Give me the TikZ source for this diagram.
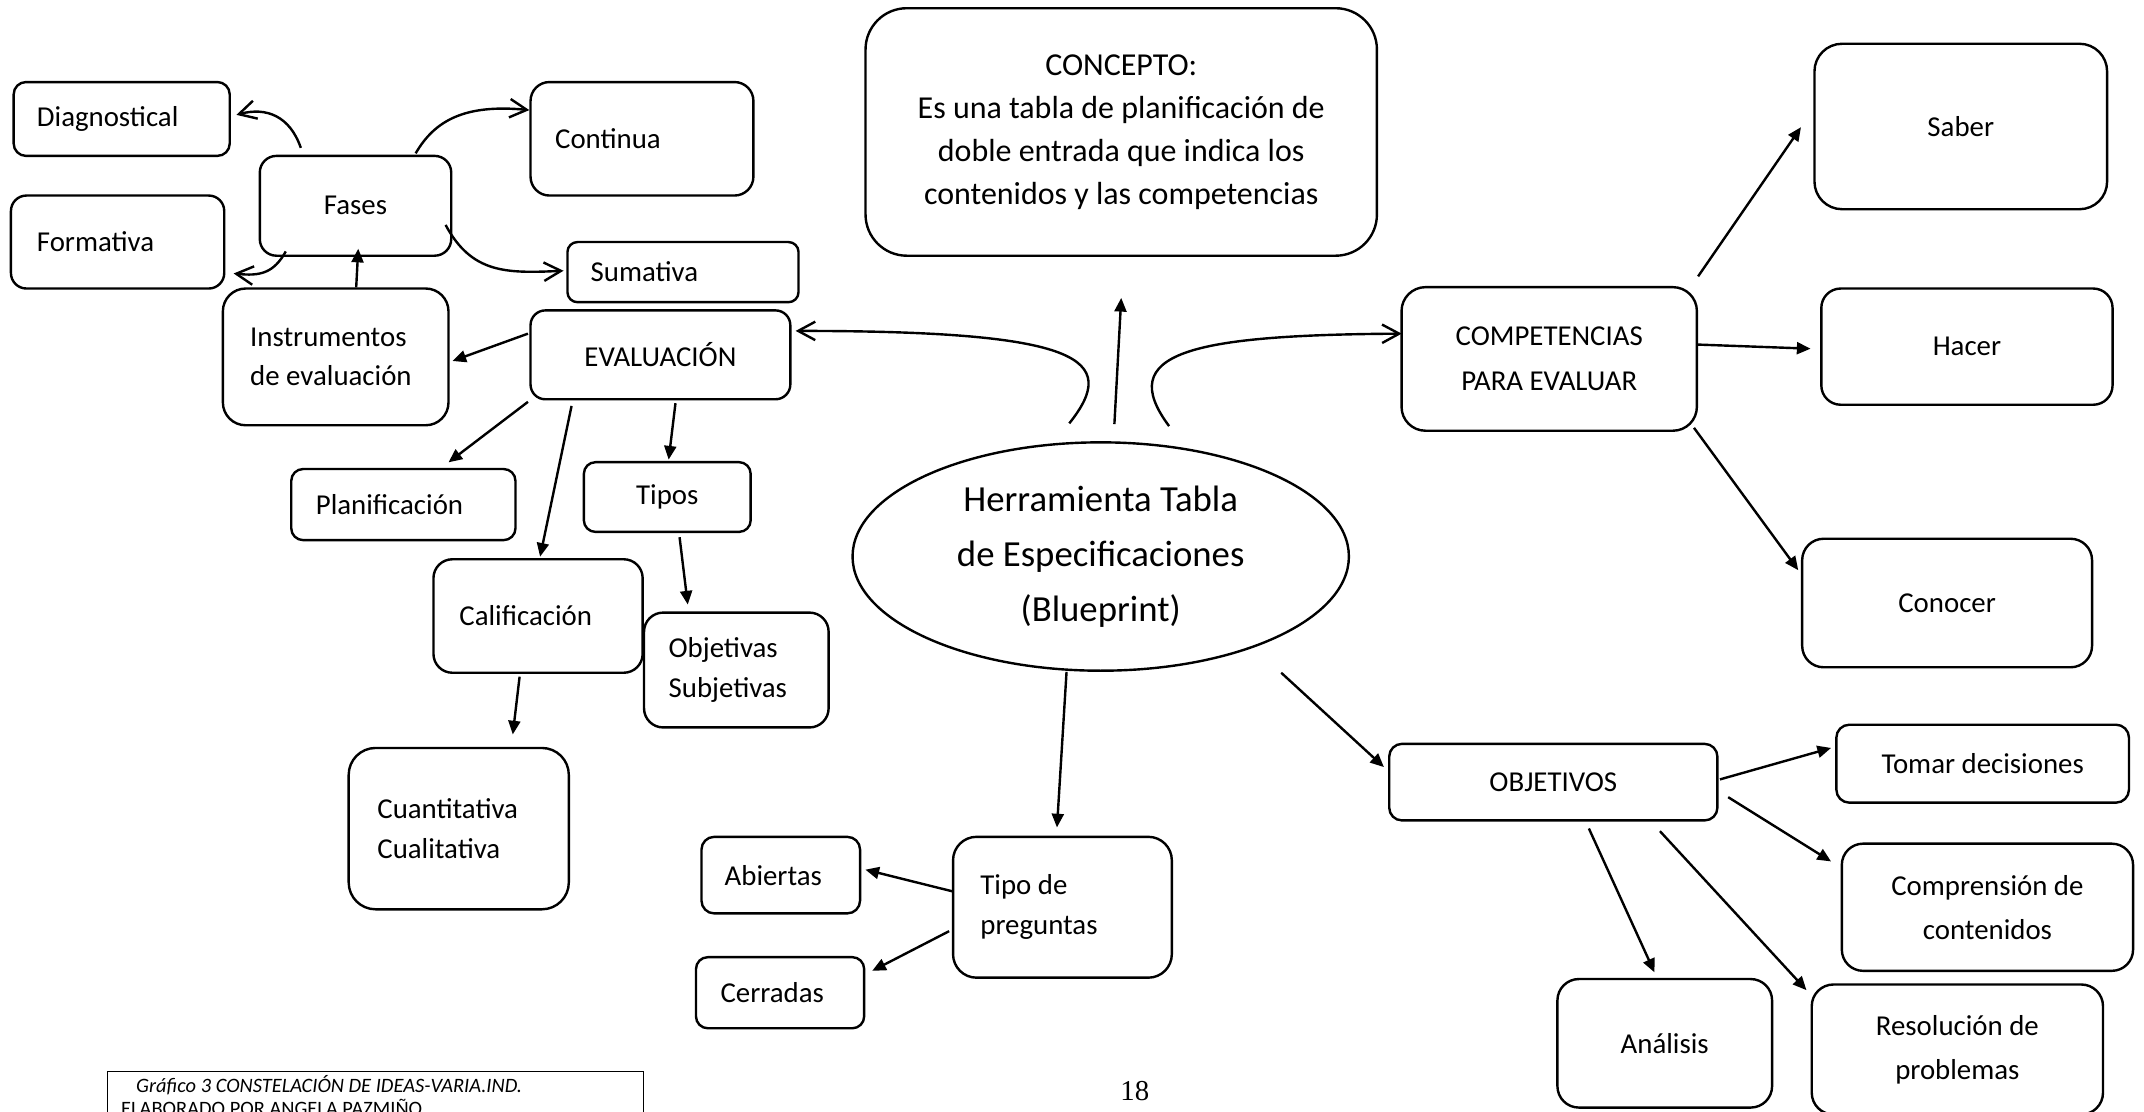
\documentclass[tikz,border=0pt]{standalone}
\usepackage{fontspec}
\setmainfont{Carlito}
\newfontfamily\numfont{Liberation Serif}
\usetikzlibrary{arrows.meta,calc,shapes.geometric}

\tikzset{
  izq/.style n args={3}{caja,rounded corners={min(#1,#2)*0.2mm/6},
    text width=(#1-2*#3)*0.2mm,inner xsep=#3*0.2mm,minimum height=#2*0.2mm,align=flush left},
  cen/.style 2 args={caja,rounded corners={min(#1,#2)*0.2mm/6},
    minimum width=#1*0.2mm,minimum height=#2*0.2mm,align=center}
}

\begin{document}
\begin{tikzpicture}[x=0.2mm,y=-0.2mm,line width=1pt,
  >={Triangle[length=2mm,width=1.75mm]}]
  \tikzstyle{caja}=[draw,rectangle,inner ysep=0pt,font=\fontsize{12}{16.5}\selectfont]
  \tikzstyle{abierta}=[-{Straight Barb[length=2.5mm,width=2.7mm]}]

\useasboundingbox (0,0) rectangle (1568,813);
\clip (0,0) rectangle (1568,813);

% lado izquierdo: evaluacion
\node[izq={158}{54}{17}] (diag) at (89,87) {Diagnostical};
\node[izq={163}{83}{18}] (cont) at (469.5,101.5) {Continua};
\node[cen={140}{73}] (fases) at (260,150.5) {Fases};
\node[izq={156}{68}{19}] (form) at (86,177) {Formativa};
\node[izq={169}{44}{17}] (sum) at (499.5,199) {Sumativa};
\node[izq={165}{100}{20}] (inst) at (245.5,261) {Instrumentos\\de evaluación};
\node[cen={190}{65}] (eval) at (483,259.5) {EVALUACIÓN};
\node[izq={164}{52}{18}] (plan) at (295,369) {Planificación};
\node[cen={122}{51}] (tipos) at (488,363.5) {Tipos};
\node[izq={153}{83}{19}] (calif) at (393.5,450.5) {Calificación};
\node[izq={135}{84}{18}] (objsub) at (538.5,490) {Objetivas\\Subjetivas};
\node[izq={161}{118}{21}] (cuant) at (335.5,606) {Cuantitativa\\Cualitativa};

% centro
\node[cen={374}{181},font=\fontsize{13.3}{17.9}\selectfont] (concepto) at (820,96.5)
  {CONCEPTO:\\Es una tabla de planificación de\\doble entrada que indica los\\contenidos y las competencias};
\node[draw,ellipse,inner sep=0pt,minimum width=363*0.2mm,minimum height=167*0.2mm,
  align=center,font=\fontsize{15.3}{22.8}\selectfont] (herr) at (805,407)
  {Herramienta Tabla\\de Especificaciones\\(Blueprint)};
\node[izq={160}{103}{20}] (tipopreg) at (777,663.5) {Tipo de\\preguntas};
\node[izq={116}{56}{17}] (abiertas) at (571,640) {Abiertas};
\node[izq={123}{52}{18}] (cerradas) at (570.5,726) {Cerradas};

% lado derecho
\node[cen={216}{105},font=\fontsize{12}{18.8}\selectfont] (compet) at (1133,262.5) {COMPETENCIAS\\PARA EVALUAR};
\node[cen={214}{121}] (saber) at (1434,92.5) {Saber};
\node[cen={213}{85}] (hacer) at (1438.5,253.5) {Hacer};
\node[cen={212}{94}] (conocer) at (1424,441) {Conocer};
\node[cen={240}{56}] (objetivos) at (1136,572) {OBJETIVOS};
\node[cen={214}{57}] (tomar) at (1450,558.5) {Tomar decisiones};
\node[cen={213}{93},font=\fontsize{12}{18.2}\selectfont] (compren) at (1453.5,663.5) {Comprensión de\\contenidos};
\node[cen={157}{94}] (analisis) at (1217.5,763) {Análisis};
\node[cen={213}{95},font=\fontsize{12}{18.2}\selectfont] (resol) at (1431.5,767.5) {Resolución de\\problemas};

% pie
\node[draw,line width=0.7pt,anchor=north west,text width=(392-20)*0.2mm,inner xsep=10*0.2mm,
  inner ysep=0.6mm,align=flush left,font=\fontsize{8.5}{9.7}\selectfont] (pie) at (78,783)
  {\hspace*{2.2mm}\textit{Gráfico 3 CONSTELACIÓN DE IDEAS-VARIA.IND.}\\ELABORADO POR ANGELA PAZMIÑO};
\node[font=\numfont\fontsize{12}{14}\selectfont] (pag) at (830,798) {18};

% conectores curvos
\draw[abierta] ($(fases.north)+(-40,-5)$) .. controls (212,85) and (195,78) .. ($(diag.east)+(4,-3)$);
\draw[abierta] ($(fases.north)+(44,-1)$) .. controls (318,88) and (340,76) .. ($(cont.west)+(0,-21)$);
\draw[abierta] ($(fases.east)+(-5,14)$) .. controls (345,200) and (370,200) .. ($(sum.west)+(-2,-1)$);
\draw[abierta] ($(fases.south)+(-51,-4)$) .. controls (200,200) and (190,202) .. ($(form.east)+(6,23)$);
\draw[abierta] ($(herr.north)+(-23,-13)$) .. controls (820,262) and (790,242) .. ($(eval.east)+(3,-17.5)$);
\draw[abierta] ($(herr.north)+(50,-11)$) .. controls (815,258) and (870,245) .. ($(compet.west)+(1,-18.5)$);

% conectores rectos
\draw[->] ($(inst.north)+(15,0)$) -- ($(fases.south)+(2,-6)$);
\draw[->] ($(eval.west)+(-1,-15.5)$) -- ($(inst.east)+(2,3)$);
\draw[->] ($(eval.south west)+(-1,1)$) -- ($(plan.north)+(33,-4)$);
\draw[->] ($(eval.south)+(-65,4)$) -- ($(calif.north)+(1.5,-1)$);
\draw[->] ($(eval.south)+(11,2)$) -- ($(tipos.north)+(1,-1)$);
\draw[->] ($(tipos.south)+(9,3)$) -- ($(objsub.north)+(-35.5,-5)$);
\draw[->] ($(calif.south)+(-13.5,2)$) -- ($(cuant.north)+(39.5,-9)$);
\draw[->] ($(herr.north)+(10,-12.5)$) -- ($(concepto.south)+(0,30)$);
\draw[->] ($(herr.south)+(-25,0)$) -- ($(tipopreg.north)+(-4,-6)$);
\draw[->] ($(tipopreg.west)+(1,-11.5)$) -- ($(abiertas.east)+(3,-4)$);
\draw[->] ($(tipopreg.west)+(-2,17.5)$) -- ($(cerradas.east)+(5,-16)$);
\draw[->] ($(herr.center)+(132,85)$) -- ($(objetivos.west)+(-3,-11)$);
\draw[->] ($(compet.north east)+(0,-7)$) -- ($(saber.west)+(-9,0.5)$);
\draw[->] ($(compet.east)+(0,-10.5)$) -- ($(hacer.west)+(-7,1.5)$);
\draw[->] ($(compet.south east)+(-3,-3)$) -- ($(conocer.west)+(-2,-24)$);
\draw[->] ($(objetivos.east)+(1,-2)$) -- ($(tomar.west)+(-3,-11.5)$);
\draw[->] ($(objetivos.east)+(7,11)$) -- ($(compren.west)+(-7,-33.5)$);
\draw[->] ($(objetivos.south)+(26,5)$) -- ($(analisis.north)+(-7.5,-4)$);
\draw[->] ($(objetivos.south)+(78,7)$) -- ($(resol.north west)+(-3,5)$);
\end{tikzpicture}
\end{document}
